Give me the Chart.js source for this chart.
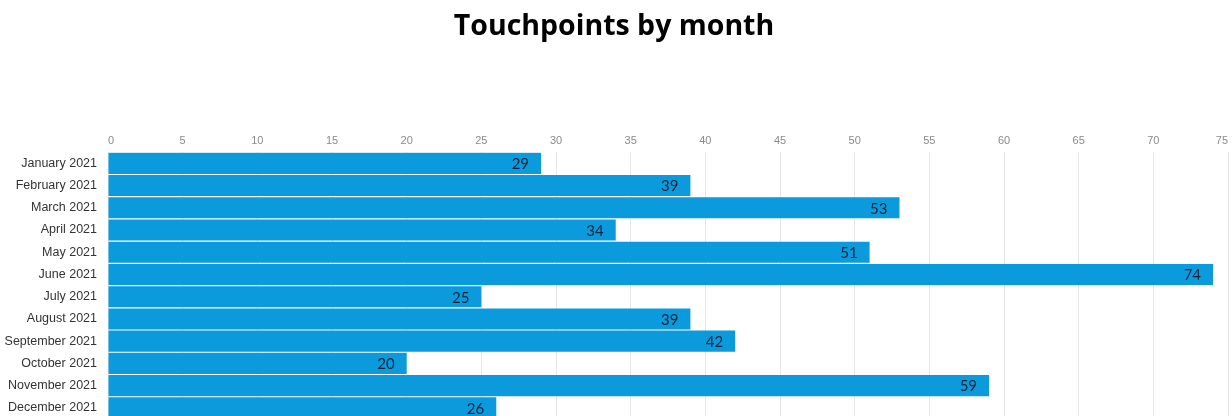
<!DOCTYPE html>
<html>
<head>
<meta charset="utf-8">
<script src="https://cdn.jsdelivr.net/npm/chart.js@4/dist/chart.umd.min.js"></script>
<style>
  html, body { margin: 0; padding: 0; background: #fff; overflow: hidden; }
  canvas { display: block; }
</style>
</head>
<body>
<canvas id="chart" width="1232" height="421"></canvas>
<script>
// Monthly touchpoint counts for 2021
const months = [
  'January 2021', 'February 2021', 'March 2021', 'April 2021',
  'May 2021', 'June 2021', 'July 2021', 'August 2021',
  'September 2021', 'October 2021', 'November 2021', 'December 2021'
];
const touchpoints = [29, 39, 53, 34, 51, 74, 25, 39, 42, 20, 59, 26];
const axisMin = 0;
const axisMax = 75;
const axisStep = 5;

// Writes each bar's value just inside its right end
const valueLabels = {
  id: 'valueLabels',
  afterDatasetsDraw(chart) {
    const ctx = chart.ctx;
    const meta = chart.getDatasetMeta(0);
    ctx.save();
    ctx.font = '15px Lato, "Open Sans", sans-serif';
    ctx.fillStyle = '#14243a';
    ctx.textAlign = 'right';
    ctx.textBaseline = 'middle';
    meta.data.forEach((bar, i) => {
      ctx.fillText(String(touchpoints[i]), bar.x - 12, bar.y + 1);
    });
    ctx.restore();
  }
};

new Chart(document.getElementById('chart'), {
  type: 'bar',
  data: {
    labels: months,
    datasets: [{
      data: touchpoints,
      backgroundColor: '#0b9bdd',
      borderWidth: 0,
      barPercentage: 0.95,
      categoryPercentage: 1.0
    }]
  },
  options: {
    indexAxis: 'y',
    responsive: false,
    animation: false,
    layout: { padding: { top: 10, right: 4, bottom: 2, left: 0 } },
    plugins: {
      legend: { display: false },
      tooltip: { enabled: false },
      title: {
        display: true,
        text: 'Touchpoints by month',
        color: '#000',
        font: { family: '"Open Sans", Lato, sans-serif', size: 28.5, weight: 'bold' },
        padding: { top: 0, bottom: 88 }
      }
    },
    scales: {
      x: {
        position: 'top',
        min: axisMin,
        max: axisMax,
        border: { display: false },
        grid: { color: '#e6e6e6', drawTicks: false },
        afterFit(scale) {
          scale.height = 20;
          scale.paddingLeft = 0;
          scale.paddingRight = 0;
        },
        ticks: {
          stepSize: axisStep,
          align: 'inner',
          padding: 5,
          color: '#8a8a8a',
          font: { family: '"Liberation Sans", Arial, sans-serif', size: 11 }
        }
      },
      y: {
        border: { display: false },
        grid: { display: false, drawTicks: false },
        afterFit(scale) {
          scale.width = 108;
          scale.paddingTop = 0;
          scale.paddingBottom = 0;
        },
        ticks: {
          padding: 11,
          color: '#333',
          font: { family: '"Liberation Sans", Arial, sans-serif', size: 12.5 }
        }
      }
    }
  },
  plugins: [valueLabels]
});
</script>
</body>
</html>
